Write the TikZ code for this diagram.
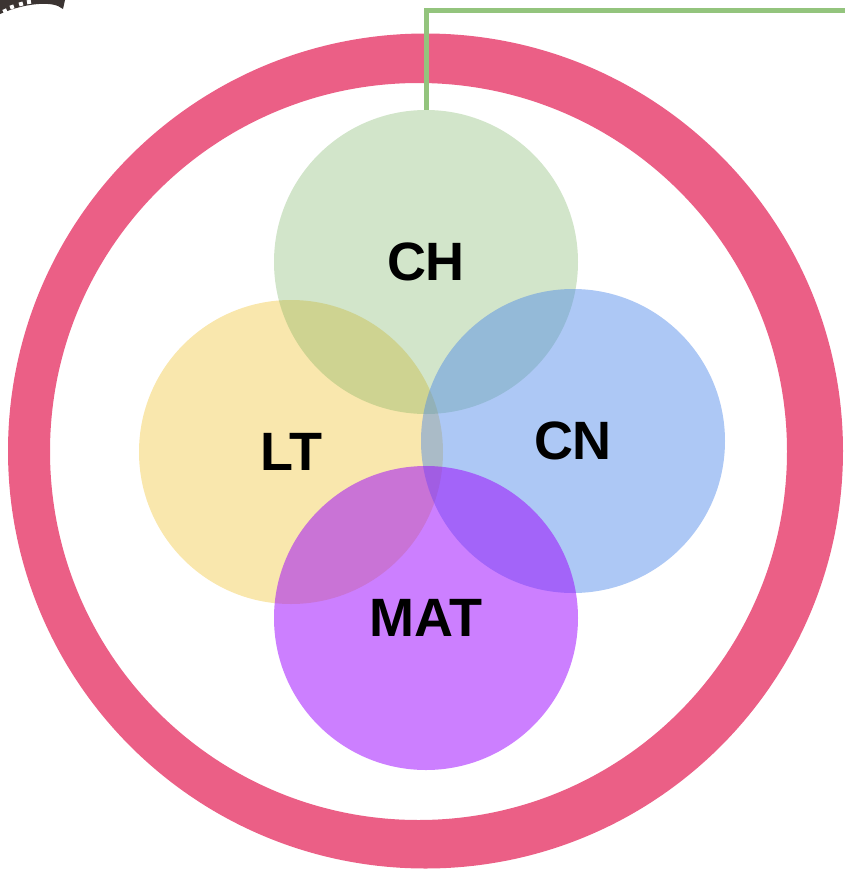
\documentclass[tikz,border=0pt]{standalone}
\usepackage{fontspec}
\setmainfont{Liberation Sans}
\usetikzlibrary{positioning}
\definecolor{ringpink}{HTML}{EB5F86}
\definecolor{linegreen}{HTML}{93C47D}
\definecolor{chgreen}{HTML}{6AA84F}
\definecolor{ltyellow}{HTML}{F1C232}
\definecolor{cnblue}{HTML}{4A86E8}
\definecolor{matpurple}{HTML}{9900FF}
\definecolor{filmgray}{HTML}{3B3432}

\begin{document}
\begin{tikzpicture}[x=1pt, y=-1pt,
    subject/.style={circle, minimum size=304pt, inner sep=0pt, text opacity=1,
        font=\bfseries\fontsize{54}{60}\selectfont}]
    \useasboundingbox (0,0) rectangle (845,871);

    % film strip corner
    \fill[filmgray] (0,14) .. controls (20,5) and (45,1) .. (58,6) -- (63,9) -- (65,0) -- (0,0) -- cycle;
    \foreach \x/\y/\r in {5/11/25, 12/7/20, 21/4/15, 29/2/10}
        \fill[white, rotate around={\r:(\x,\y)}] (\x-2,\y-2) rectangle (\x+2,\y+2);

    % outer ring
    \fill[ringpink, even odd rule] (425.5,451) circle (417.5) (418.5,451.5) circle (368.5);

    \node[subject, fill=ltyellow, fill opacity=0.4] (LT) at (291,452) {LT};
    \node[subject, fill=chgreen, fill opacity=0.3] (CH) at (426,262) {CH};
    \node[subject, fill=cnblue, fill opacity=0.45] (CN) at (573,441) {CN};
    \node[subject, fill=matpurple, fill opacity=0.5] (MAT) at (426,618) {MAT};

    \coordinate (edge) at (845,10);
    \draw[linegreen, line width=5pt] (CH.north) |- (edge);
\end{tikzpicture}
\end{document}
